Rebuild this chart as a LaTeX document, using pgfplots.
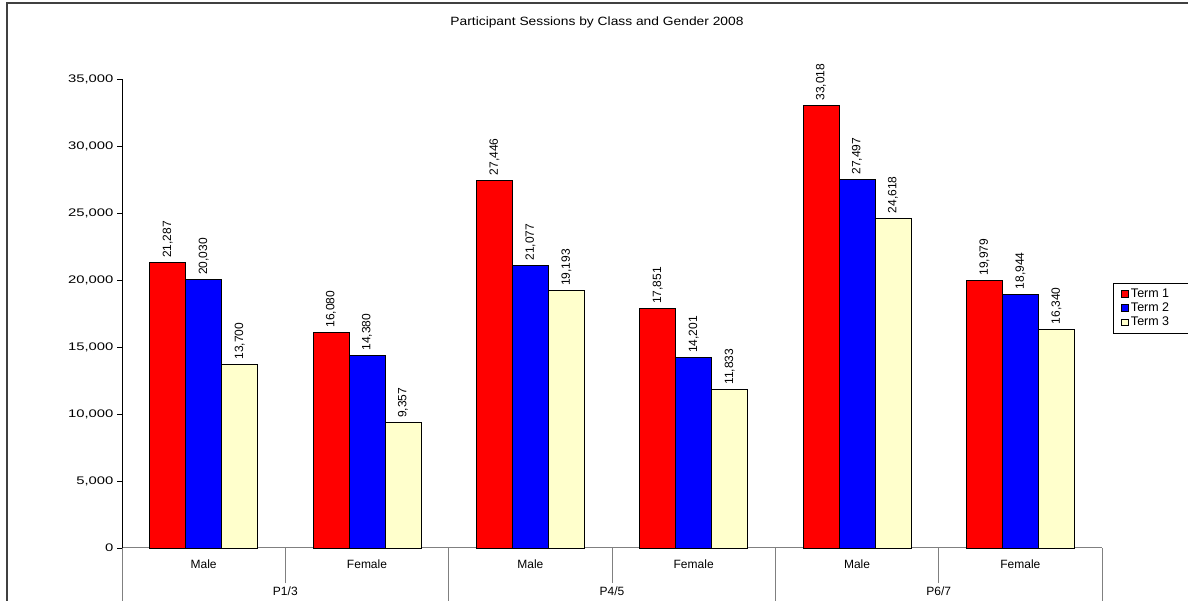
\documentclass[border=0pt]{standalone}
\usepackage{fontspec}
\setmainfont{Liberation Sans}
\usepackage{graphicx}
\usepackage{pgfplots}
\pgfplotsset{compat=1.18}
\definecolor{tone}{RGB}{255,0,0}
\definecolor{ttwo}{RGB}{0,0,255}
\definecolor{tthree}{RGB}{255,255,204}
\definecolor{sepgray}{RGB}{128,128,128}
\begin{document}
\begin{tikzpicture}
\begin{axis}[
  at={(122pt,53pt)}, anchor=south west,
  scale only axis, width=980pt, height=469pt,
  ybar=0pt, bar width=36pt,
  xmin=-0.5, xmax=5.5, ymin=0, ymax=35000,
  clip=false,
  axis x line*=bottom, axis y line*=left,
  x axis line style={sepgray, line width=1pt},
  y axis line style={black, line width=0.8pt},
  xtick={0,...,5},
  xticklabels={},
  xmajorticks=false,
  minor xtick={0.5,2.5,4.5},
  minor tick length=35pt,
  extra x ticks={-0.5,1.5,3.5,5.5},
  extra x tick labels={},
  extra x tick style={xmajorticks=true, major tick length=60pt},
  x tick style={sepgray, line width=1pt},
  y tick style={black, line width=0.8pt},
  ytick={0,5000,...,35000},
  scaled y ticks=false,
  major tick length=5pt, tick align=outside,
  /pgf/number format/.cd, fixed, precision=0, 1000 sep={,}, assume math mode=true,
  /pgfplots/.cd,
  yticklabel={\scalebox{1.35}[1]{\pgfmathprintnumber{\tick}}},
  yticklabel style={font=\fontsize{11}{13}\selectfont, black},
  nodes near coords,
  every node near coord/.append style={rotate=90, anchor=west, font=\fontsize{12}{14}\selectfont, inner sep=4.5pt, black},
  legend style={at={(1.0112,0.566)}, anchor=north west, draw=black, font=\fontsize{12.5}{14}\selectfont, row sep=0pt, inner xsep=8pt, inner ysep=4pt},
  legend cell align=left,
  legend image code/.code={\draw[#1,draw=black,line width=0.8pt] (0pt,-3.2pt) rectangle (7pt,3.2pt);},
]
\addplot[fill=tone, draw=black, line width=0.8pt] coordinates {(0,21287) (1,16080) (2,27446) (3,17851) (4,33018) (5,19979)};
\addplot[fill=ttwo, draw=black, line width=0.8pt] coordinates {(0,20030) (1,14380) (2,21077) (3,14201) (4,27497) (5,18944)};
\addplot[fill=tthree, draw=black, line width=0.8pt] coordinates {(0,13700) (1,9357) (2,19193) (3,11833) (4,24618) (5,16340)};
\legend{Term 1\hspace*{20pt}\mbox{},Term 2\hspace*{20pt}\mbox{},Term 3\hspace*{20pt}\mbox{}}
\node[font=\fontsize{12}{14}\selectfont] at (axis cs:0,0) [yshift=-16pt] {Male};
\node[font=\fontsize{12}{14}\selectfont] at (axis cs:1,0) [yshift=-16pt] {Female};
\node[font=\fontsize{12}{14}\selectfont] at (axis cs:2,0) [yshift=-16pt] {Male};
\node[font=\fontsize{12}{14}\selectfont] at (axis cs:3,0) [yshift=-16pt] {Female};
\node[font=\fontsize{12}{14}\selectfont] at (axis cs:4,0) [yshift=-16pt] {Male};
\node[font=\fontsize{12}{14}\selectfont] at (axis cs:5,0) [yshift=-16pt] {Female};
\node[font=\fontsize{12}{14}\selectfont] at (axis cs:0.5,0) [yshift=-43pt] {P1/3};
\node[font=\fontsize{12}{14}\selectfont] at (axis cs:2.5,0) [yshift=-43pt] {P4/5};
\node[font=\fontsize{12}{14}\selectfont] at (axis cs:4.5,0) [yshift=-43pt] {P6/7};
\end{axis}
\node[font=\fontsize{12}{14}\selectfont] at (597pt,579pt) {\scalebox{1.15}[1]{Participant Sessions by Class and Gender 2008}};
\draw[line width=1.5pt, black!75] (7pt,-5pt) -- (7pt,598pt) -- (1200pt,598pt);
\pgfresetboundingbox
\path (0,0) rectangle (1188pt,601pt);
\end{tikzpicture}
\end{document}
